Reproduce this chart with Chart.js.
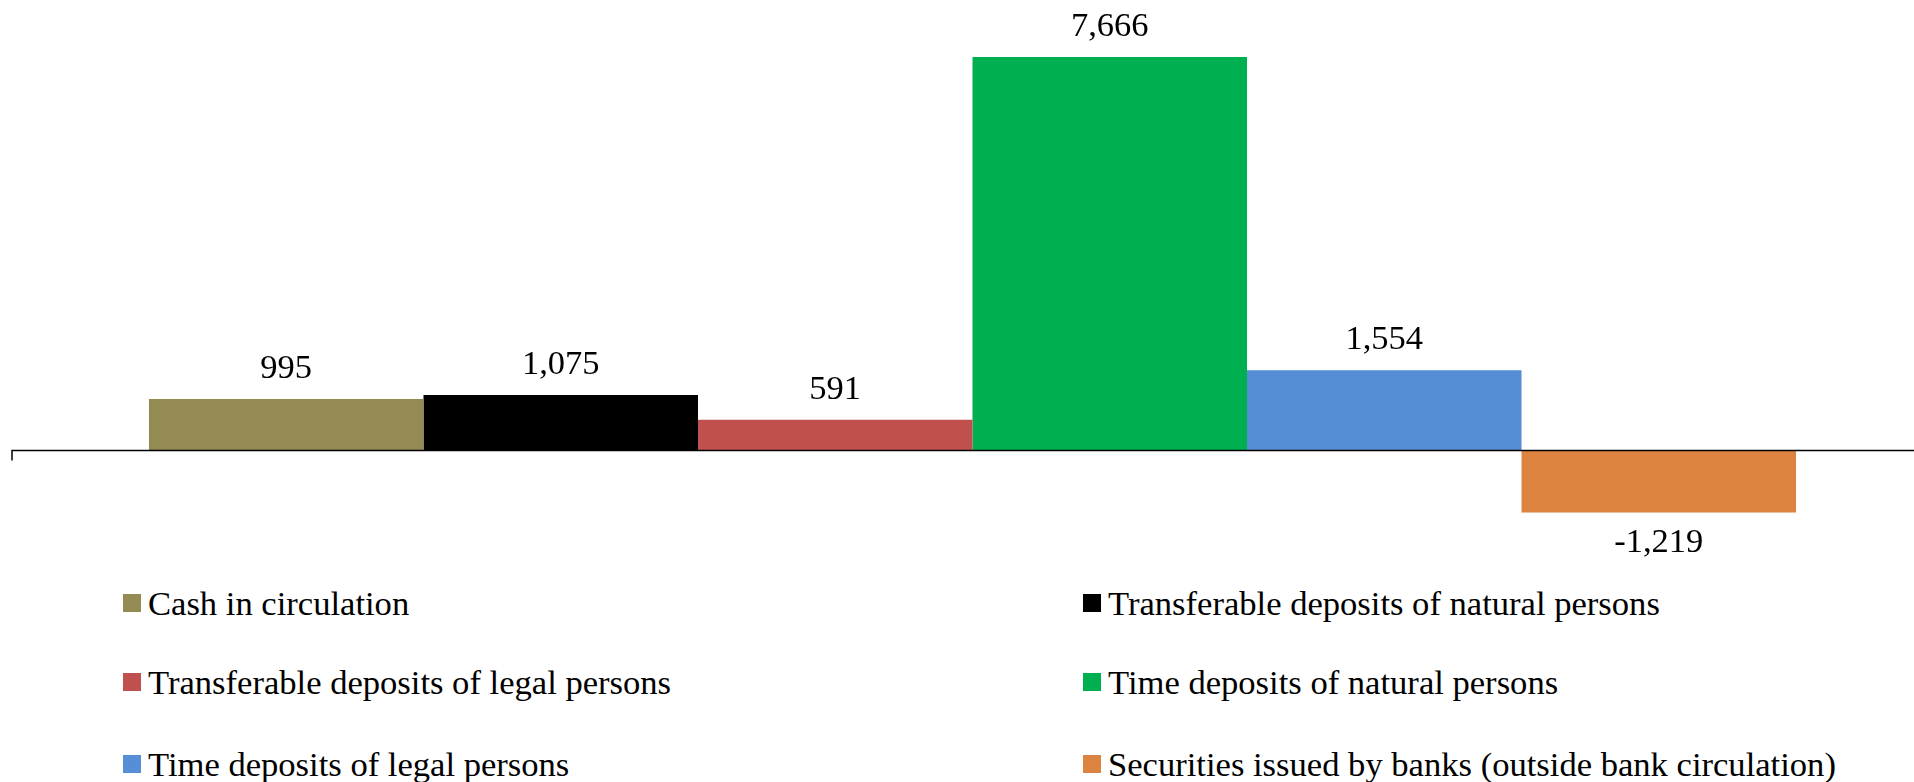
<!DOCTYPE html>
<html>
<head>
<meta charset="utf-8">
<script src="https://cdn.jsdelivr.net/npm/chart.js@4/dist/chart.umd.min.js"></script>
<style>
  html, body { margin: 0; padding: 0; background: #fff; overflow: hidden; }
  body { width: 1914px; height: 782px; position: relative; }
  #chart { position: absolute; left: 0; top: 0; }
  .leg { position: absolute; font-family: "Liberation Serif", "Times New Roman", serif; font-size: 34.6px; color: #000; white-space: nowrap; line-height: 1; }
  .leg i { position: absolute; width: 18px; height: 18px; top: 50%; margin-top: -9px; }
</style>
</head>
<body>
<canvas id="chart" width="1945" height="570"></canvas>
<div id="legend"></div>
<script>
// ─── DATA ────────────────────────────────────────────────
const series = [
  'Cash in circulation',
  'Transferable deposits of natural persons',
  'Transferable deposits of legal persons',
  'Time deposits of natural persons',
  'Time deposits of legal persons',
  'Securities issued by banks (outside bank circulation)'
];
const values = [995, 1075, 591, 7666, 1554, -1219];
const colors = ['#948A54', '#000000', '#C0504D', '#00B050', '#558ED5', '#DC843F'];

const FONT = '"Liberation Serif", "Times New Roman", serif';

// ─── PLUGINS ─────────────────────────────────────────────
// horizontal axis line at zero with the left tick mark
const zeroAxis = {
  id: 'zeroAxis',
  afterDatasetsDraw(chart) {
    const { ctx, chartArea, scales } = chart;
    const y0 = Math.round(scales.y.getPixelForValue(0)) + 0.5;
    ctx.save();
    ctx.strokeStyle = '#000';
    ctx.lineWidth = 1.5;
    ctx.beginPath();
    ctx.moveTo(chartArea.left, y0 + 10);
    ctx.lineTo(chartArea.left, y0);
    ctx.lineTo(chartArea.right, y0);
    ctx.stroke();
    ctx.restore();
  }
};

// value labels above / below each bar
const valueLabels = {
  id: 'valueLabels',
  afterDatasetsDraw(chart) {
    const { ctx } = chart;
    ctx.save();
    ctx.font = '34.5px ' + FONT;
    ctx.fillStyle = '#000';
    ctx.textAlign = 'center';
    ctx.textBaseline = 'middle';
    chart.data.datasets.forEach((ds, i) => {
      const bar = chart.getDatasetMeta(i).data[0];
      const v = ds.data[0];
      const y = v >= 0 ? bar.y - 30 : bar.y + 30;
      ctx.fillText(v.toLocaleString('en-US'), bar.x, y);
    });
    ctx.restore();
  }
};

// ─── CHART ───────────────────────────────────────────────
new Chart(document.getElementById('chart'), {
  type: 'bar',
  data: {
    labels: [''],
    datasets: series.map((name, i) => ({
      label: name,
      data: [values[i]],
      backgroundColor: colors[i],
      borderWidth: 0,
      categoryPercentage: 0.8574,
      barPercentage: 1
    }))
  },
  options: {
    responsive: false,
    devicePixelRatio: 1,
    animation: false,
    layout: { padding: { left: 12, right: 12, top: 40, bottom: 17.5 } },
    scales: {
      x: { display: false },
      y: { display: false, min: -2000, max: 8000 }
    },
    plugins: {
      legend: { display: false },
      tooltip: { enabled: false }
    }
  },
  plugins: [zeroAxis, valueLabels]
});

// ─── LEGEND ──────────────────────────────────────────────
const legend = document.getElementById('legend');
const colX = [123, 1083];
const rowY = [603, 682, 764];
series.forEach((name, i) => {
  const el = document.createElement('div');
  el.className = 'leg';
  el.style.left = (colX[i % 2] + 25) + 'px';
  el.style.top = (rowY[Math.floor(i / 2)] - 17) + 'px';
  el.style.height = '34px';
  el.style.lineHeight = '34px';
  el.innerHTML = `<i style="background:${colors[i]};left:-25px"></i>${name}`;
  legend.appendChild(el);
});
</script>
</body>
</html>
